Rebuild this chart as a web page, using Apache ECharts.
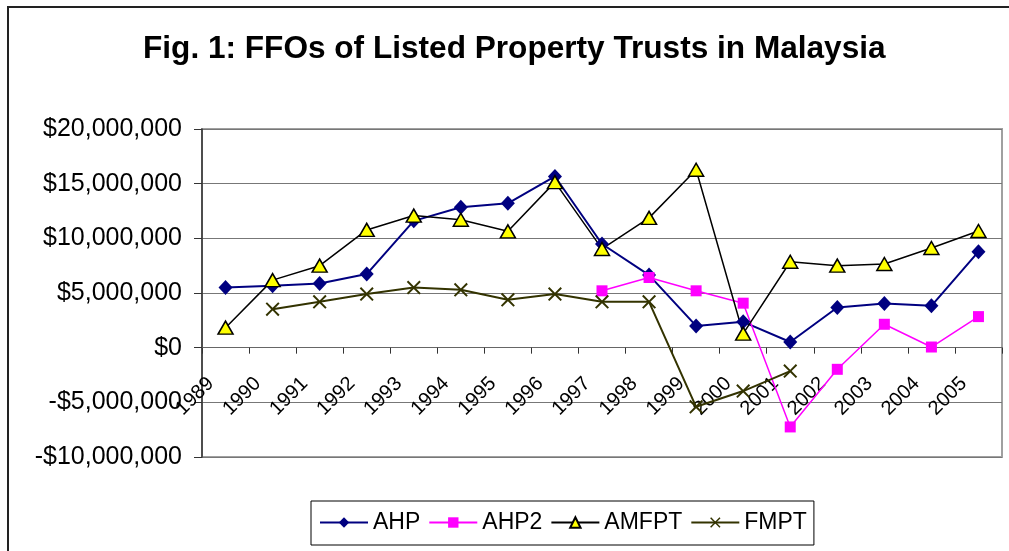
<!DOCTYPE html>
<html>
<head>
<meta charset="utf-8">
<script src="https://cdn.jsdelivr.net/npm/echarts@6/dist/echarts.min.js"></script>
<style>
html,body{margin:0;padding:0;background:#fff;}
#chart{width:1009px;height:551px;}
</style>
</head>
<body>
<div id="chart"></div>
<script>
var categories = ['1989','1990','1991','1992','1993','1994','1995','1996','1997','1998','1999','2000','2001','2002','2003','2004','2005'];
var AHP   = [5500000, 5660000, 5870000, 6730000, 11600000, 12840000, 13200000, 15660000, 9480000, 6640000, 1990000, 2360000, 520000, 3670000, 4040000, 3830000, 8780000];
var AHP2  = ['-', '-', '-', '-', '-', '-', '-', '-', 5200000, 6420000, 5200000, 4070000, -7250000, -1980000, 2140000, 60000, 2840000];
var AMFPT = [1830000, 6180000, 7500000, 10770000, 12080000, 11700000, 10640000, 15140000, 9030000, 11870000, 16270000, 1280000, 7860000, 7500000, 7650000, 9120000, 10670000];
var FMPT  = ['-', 3520000, 4190000, 4900000, 5500000, 5290000, 4380000, 4900000, 4190000, 4190000, -5410000, -3970000, -2140000, '-', '-', '-', '-'];
var yTicks = [-10000000, -5000000, 0, 5000000, 10000000, 15000000, 20000000];
var yTickLabels = ['-$10,000,000', '-$5,000,000', '$0', '$5,000,000', '$10,000,000', '$15,000,000', '$20,000,000'];

var FONT = "'Liberation Sans', Arial, sans-serif";
var xPath = 'path://M2,0L10,8L18,0L20,2L12,10L20,18L18,20L10,12L2,20L0,18L8,10L0,2Z';

var Y_MIN = -10000000, Y_MAX = 20000000;
var GRID_TOP = 129, GRID_BOTTOM = 94, H = 551;
var gridHeight = H - GRID_TOP - GRID_BOTTOM;
// place the category axis on the zero line
var zeroOffset = -gridHeight * (0 - Y_MIN) / (Y_MAX - Y_MIN);

var chart = echarts.init(document.getElementById('chart'), null, {renderer: 'canvas'});
chart.setOption({
  backgroundColor: '#fff',
  animation: false,
  title: {
    text: 'Fig. 1: FFOs of Listed Property Trusts in Malaysia',
    left: 143, top: 33, padding: 0,
    textStyle: {fontFamily: FONT, fontSize: 31.6, fontWeight: 'bold', color: '#000'}
  },
  graphic: [{
    type: 'rect', silent: true, z: -1,
    shape: {x: 8, y: 7, width: 1100, height: 700},
    style: {fill: 'none', stroke: '#222', lineWidth: 2}
  }],
  legend: {
    left: 311, top: 501,
    orient: 'horizontal',
    itemWidth: 48, itemHeight: 13, itemGap: 8,
    padding: [10, 7, 11, 8],
    borderColor: '#000', borderWidth: 1,
    textStyle: {fontFamily: FONT, fontSize: 23, color: '#000'},
    data: ['AHP', 'AHP2', 'AMFPT', 'FMPT']
  },
  grid: {
    left: 202, right: 7, top: GRID_TOP, bottom: GRID_BOTTOM,
    show: true, borderColor: '#a0a0a0', borderWidth: 2, backgroundColor: 'transparent'
  },
  xAxis: {
    type: 'category',
    data: categories,
    boundaryGap: true,
    offset: zeroOffset,
    axisLine: {onZero: false, lineStyle: {color: '#666', width: 1}},
    axisTick: {show: true, length: 6, lineStyle: {color: '#333'}},
    axisLabel: {interval: 0, rotate: 45, margin: 18, padding: [0, 21, 0, 0],
      fontFamily: FONT, fontSize: 20, color: '#000'},
    splitLine: {show: false}
  },
  yAxis: {
    type: 'value',
    min: Y_MIN, max: Y_MAX, interval: 5000000,
    axisLine: {show: true, lineStyle: {color: '#333', width: 1.5}},
    axisTick: {show: true, length: 8, lineStyle: {color: '#333'}},
    axisLabel: {margin: 20, fontFamily: FONT, fontSize: 25, color: '#000',
      formatter: function (v) { var i = yTicks.indexOf(v); return i >= 0 ? yTickLabels[i] : ''; }},
    splitLine: {show: true, lineStyle: {color: '#777', width: 1}}
  },
  series: [
    {name: 'AHP', type: 'line', data: AHP, symbol: 'diamond', symbolSize: [14, 15],
      lineStyle: {color: '#000080', width: 2}, itemStyle: {color: '#000080'}},
    {name: 'AHP2', type: 'line', data: AHP2, symbol: 'rect', symbolSize: 11,
      lineStyle: {color: '#ff00ff', width: 1.5}, itemStyle: {color: '#ff00ff'}},
    {name: 'AMFPT', type: 'line', data: AMFPT, symbol: 'triangle', symbolSize: [15, 13],
      lineStyle: {color: '#000', width: 1.5}, itemStyle: {color: '#ffff00', borderColor: '#000', borderWidth: 1.5}},
    {name: 'FMPT', type: 'line', data: FMPT, symbol: xPath, symbolSize: 14,
      lineStyle: {color: '#333300', width: 2}, itemStyle: {color: '#333300'}}
  ]
});
</script>
</body>
</html>
